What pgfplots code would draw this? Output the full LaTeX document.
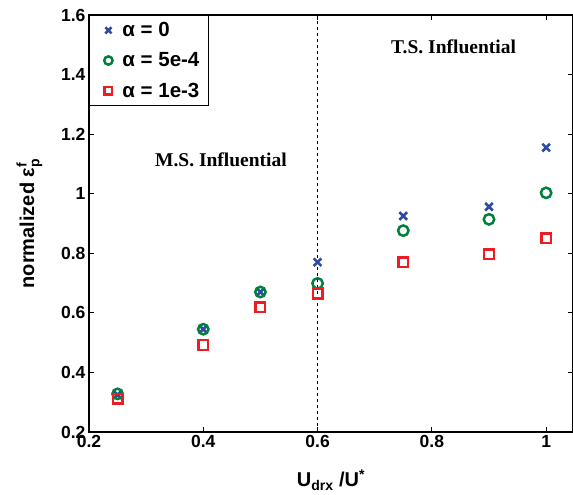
\documentclass[border=0pt]{standalone}
\usepackage{fontspec}
\setmainfont{Liberation Sans}
\newfontfamily\timesb{Liberation Serif}
\usepackage{amsmath}
\usepackage{pgfplots}
\pgfplotsset{compat=1.18}
\definecolor{mblue}{RGB}{45,75,160}
\definecolor{mgreen}{RGB}{0,128,60}
\definecolor{mred}{RGB}{236,30,36}

\begin{document}
\begin{tikzpicture}
\begin{axis}[
  scale only axis,
  width=484pt, height=417pt,
  xmin=0.2, xmax=1.047,
  ymin=0.2, ymax=1.6,
  xtick={0.2,0.4,0.6,0.8,1},
  ytick={0.2,0.4,0.6,0.8,1,1.2,1.4,1.6},
  xticklabels={0.2,0.4,0.6,0.8,1},
  yticklabels={0.2,0.4,0.6,0.8,1,1.2,1.4,1.6},
  tick align=inside,
  major tick length=5pt,
  tick style={black, line width=0.8pt},
  axis line style={line width=1.2pt},
  tick label style={font=\fontsize{17.5}{20}\selectfont\bfseries},
  label style={font=\fontsize{20}{22}\selectfont\bfseries},
  xlabel={U$_{\text{\bfseries drx}}$ /U$^{\text{\bfseries *}}$},
  ylabel={normalized ε$_{\text{\bfseries p}}^{\text{\bfseries f}}$},
  xlabel style={yshift=-15pt},
  ylabel style={yshift=12pt},
  legend style={draw=black, line width=0.8pt,
    at={(0,1)}, anchor=north west, inner xsep=4pt, inner ysep=5pt,
    row sep=10.5pt,
    nodes={font=\fontsize{20.5}{22}\selectfont\bfseries, inner xsep=5pt}},
  legend image code/.code={\path[draw=none, fill=none] (0pt,-1pt) rectangle (24pt,1pt);
    \draw[#1, scale=0.8] plot coordinates {(18.75pt,0pt)};},
  legend cell align=left,
  clip=false,
]
\addplot[only marks, mark=x, mark size=5.4pt, mblue, line width=2.6pt] coordinates {
  (0.25,0.325) (0.4,0.545) (0.5,0.670) (0.6,0.770) (0.75,0.925) (0.9,0.956) (1.0,1.155)
};
\addlegendentry{α = 0}
\addplot[only marks, mark=o, mark size=5.2pt, mgreen, line width=2.5pt] coordinates {
  (0.25,0.328) (0.4,0.545) (0.5,0.670) (0.6,0.699) (0.75,0.876) (0.9,0.914) (1.0,1.003)
};
\addlegendentry{α = 5e-4}
\addplot[only marks, mark=square, mark size=4.8pt, mred, line width=2.5pt] coordinates {
  (0.25,0.312) (0.4,0.492) (0.5,0.619) (0.6,0.665) (0.75,0.770) (0.9,0.797) (1.0,0.850)
};
\addlegendentry{α = 1e-3}
\addplot[black, dashed, line width=0.9pt, forget plot] coordinates {(0.6,0.2) (0.6,1.6)};
\node[font=\fontsize{19.5}{21}\selectfont\timesb\bfseries] at (axis cs:0.431,1.113) {M.S. Influential};
\node[font=\fontsize{19.5}{21}\selectfont\timesb\bfseries] at (axis cs:0.838,1.492) {T.S. Influential};
\end{axis}
\pgfresetboundingbox
\path (-89pt,-63pt) rectangle (484pt,432pt);
\end{tikzpicture}
\end{document}
